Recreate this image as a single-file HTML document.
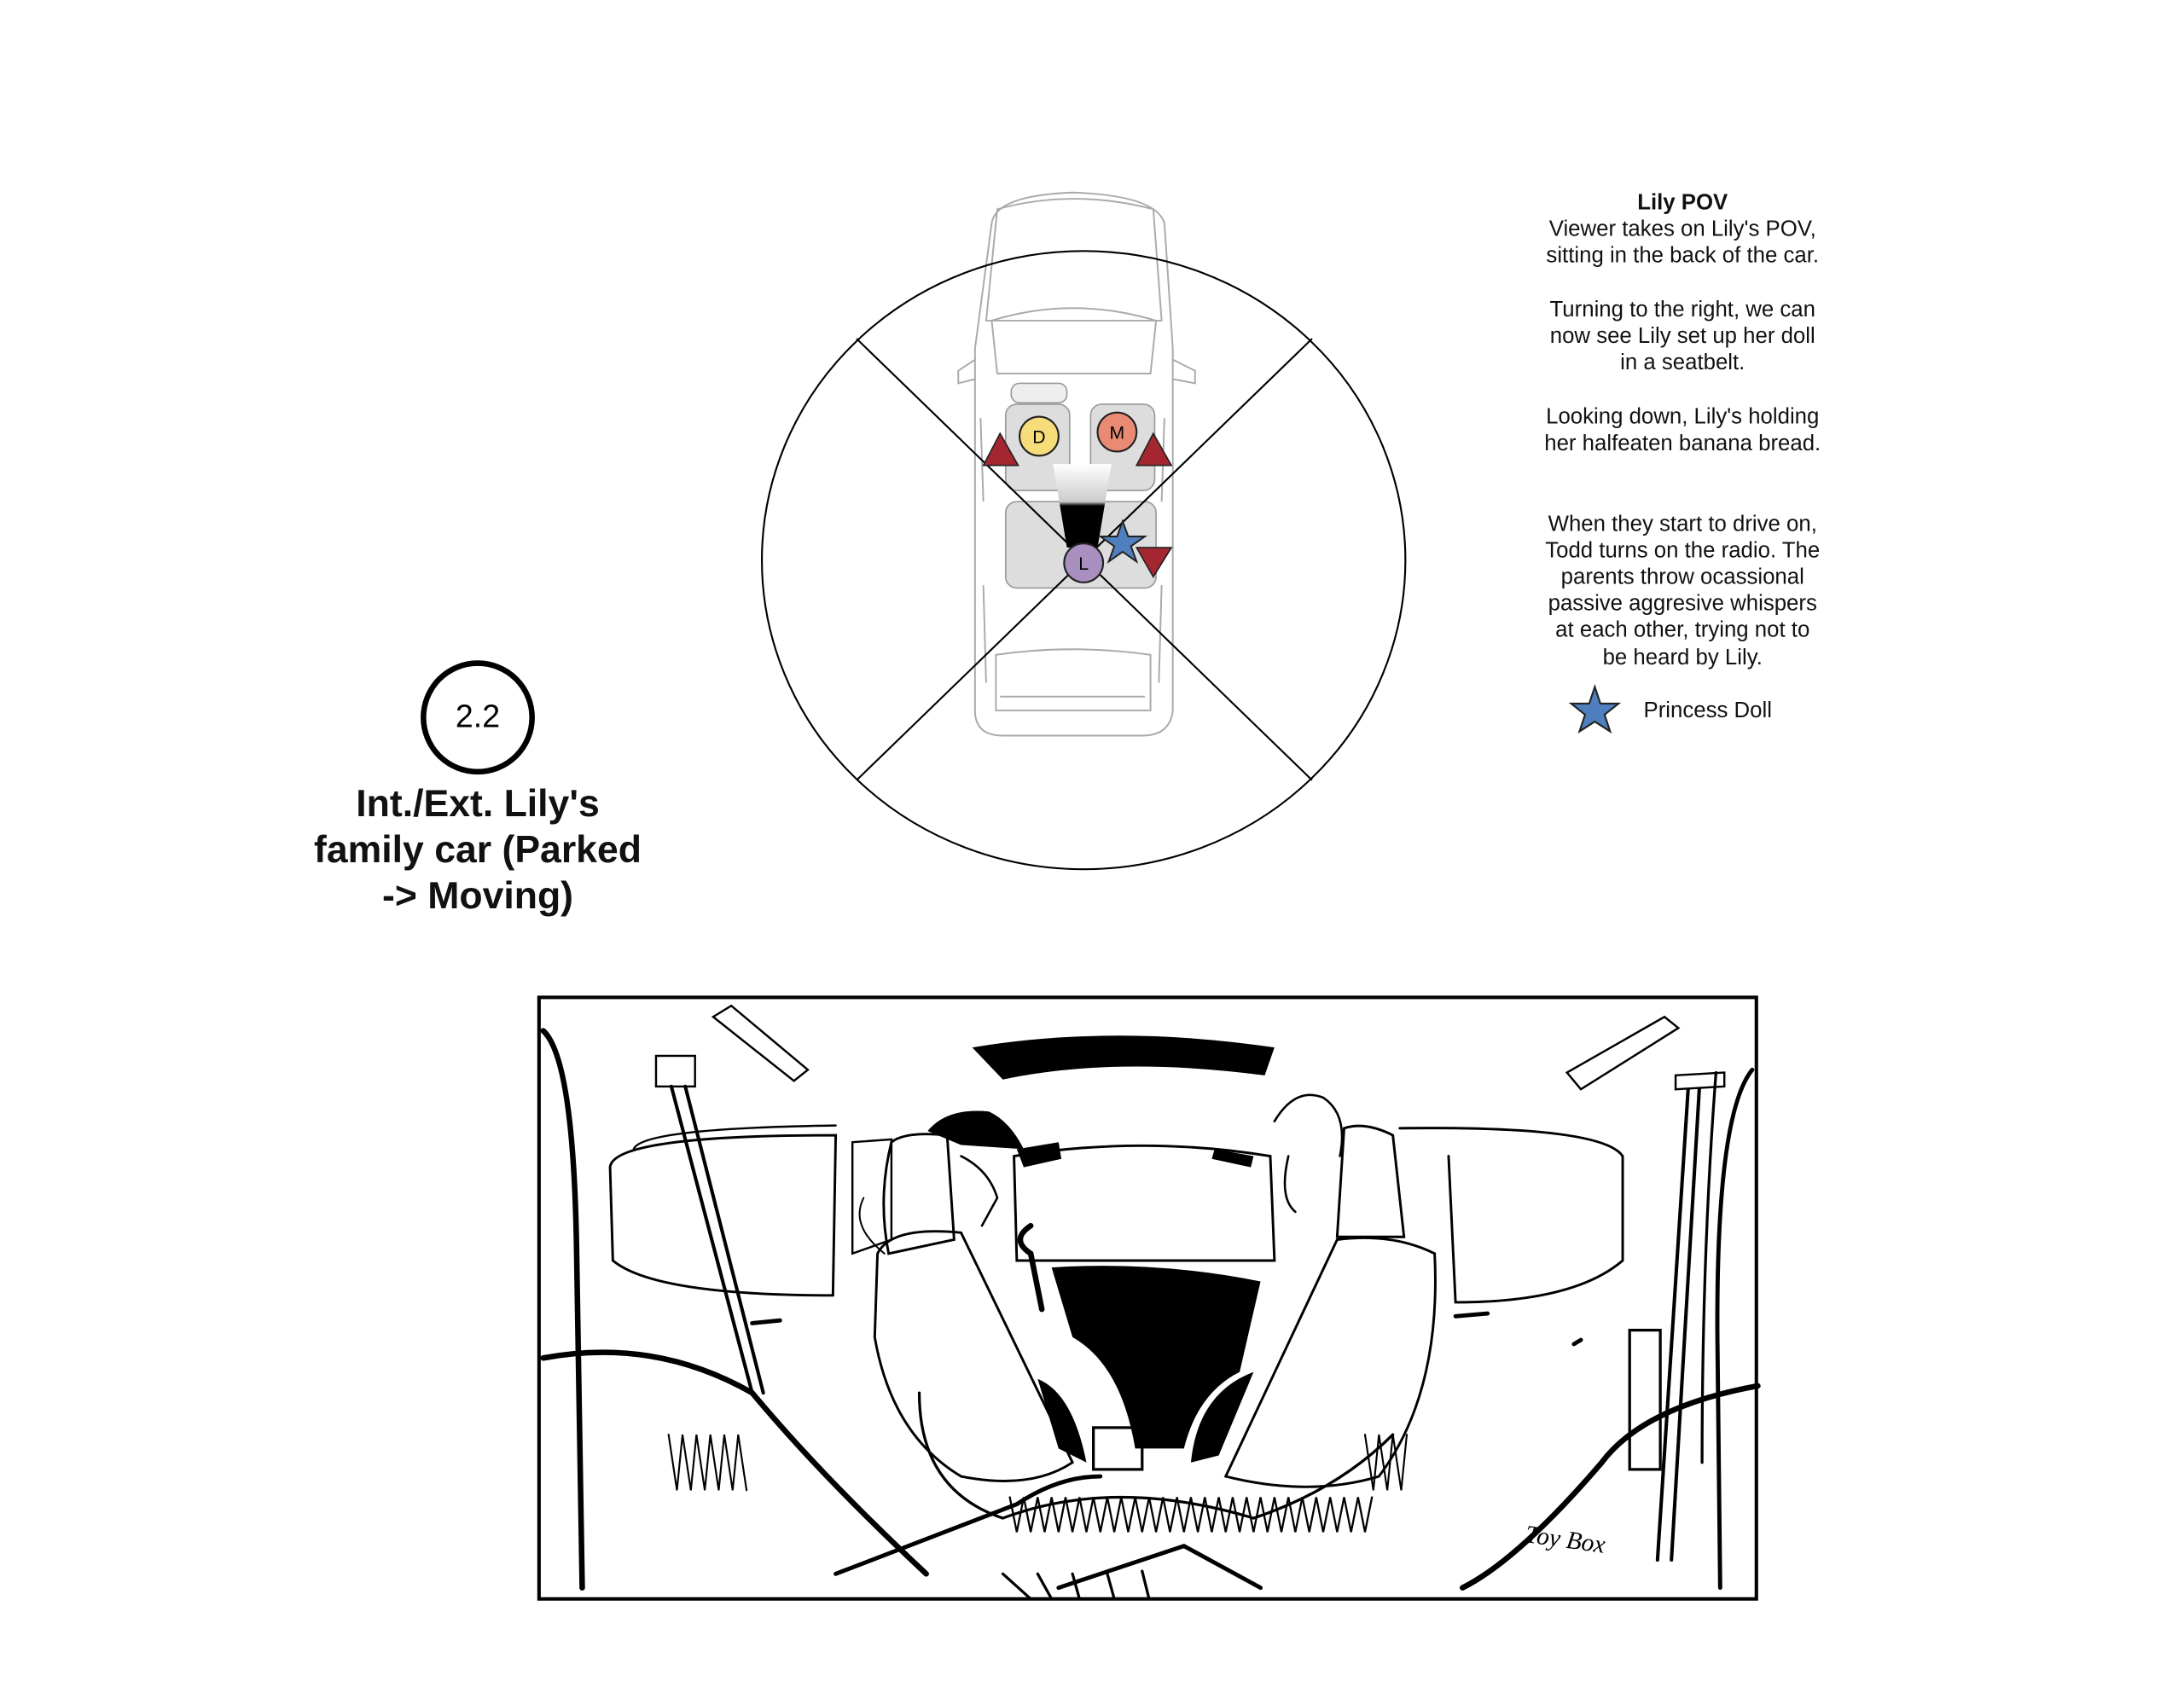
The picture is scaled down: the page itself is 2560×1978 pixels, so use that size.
<!DOCTYPE html>
<html><head><meta charset="utf-8"><style>html,body{margin:0;padding:0;background:#fff}svg{display:block}</style></head>
<body>
<svg width="2560" height="1978" viewBox="0 0 1568 1211" xmlns="http://www.w3.org/2000/svg" font-family="Liberation Sans, sans-serif">
<rect width="1568" height="1211" fill="#fff"/>
<!-- car top view -->
<g fill="none" stroke="#aaa" stroke-width="1.2">
<path d="M712,160 Q715,140 770,138 Q830,140 836,160 L842,250 L842,510 Q840,528 820,528 L720,528 Q700,528 700,510 L700,250 Z" fill="#fff"/>
<path d="M716,150 Q770,135 828,150 L834,230 L708,230 Z"/>
<path d="M712,230 Q770,212 830,230 L826,268 L716,268 Z"/>
<path d="M700,258 L688,266 L688,275 L700,272"/>
<path d="M842,258 L858,266 L858,275 L842,272"/>
<path d="M715,470 Q770,462 826,470 L826,510 L715,510 Z"/>
<path d="M718,500 L822,500"/>
<path d="M706,420 L708,490 M834,420 L832,490 M704,300 L706,360 M836,300 L834,360"/>
</g>
<g fill="#ddd" stroke="#999" stroke-width="1">
<rect x="722" y="290" width="46" height="62" rx="8"/>
<rect x="783" y="290" width="46" height="62" rx="8"/>
<rect x="722" y="360" width="108" height="62" rx="8"/>
<rect x="726" y="275" width="40" height="14" rx="6" fill="#eee"/>
</g>
<defs><linearGradient id="g" x1="0" y1="0" x2="0" y2="1"><stop offset="0" stop-color="#fff"/><stop offset="0.45" stop-color="#ccc"/><stop offset="0.5" stop-color="#000"/><stop offset="1" stop-color="#000"/></linearGradient></defs>
<polygon points="756,333 798,333 788,393 766,393" fill="url(#g)"/>
<!-- circle and lines -->
<ellipse cx="778" cy="402" rx="231" ry="222" fill="none" stroke="#000" stroke-width="1.3"/>
<line x1="615" y1="243" x2="942" y2="560" stroke="#000" stroke-width="1.3"/>
<line x1="942" y1="243" x2="615" y2="560" stroke="#000" stroke-width="1.3"/>
<!-- markers -->
<polygon points="718,311 706,334 731,334" fill="#a32630" stroke="#222" stroke-width="1"/>
<polygon points="828,311 816,334 841,334" fill="#a32630" stroke="#222" stroke-width="1"/>
<polygon points="816,393 841,393 828,414" fill="#a32630" stroke="#222" stroke-width="1"/>
<circle cx="746" cy="313" r="14" fill="#f6dd7a" stroke="#222" stroke-width="1.3"/>
<text x="746" y="318" font-size="13" text-anchor="middle">D</text>
<circle cx="802" cy="310" r="14" fill="#e98b74" stroke="#222" stroke-width="1.3"/>
<text x="802" y="315" font-size="13" text-anchor="middle">M</text>
<circle cx="778" cy="404" r="14" fill="#a88fbf" stroke="#222" stroke-width="1.3"/>
<text x="778" y="409" font-size="13" text-anchor="middle">L</text>
<polygon points="806,374 810,385 822,385 812,392 816,403 806,396 796,403 800,392 790,385 802,385" fill="#4f7fbf" stroke="#222" stroke-width="1.2"/>
<!-- right text -->
<g font-size="15.8" text-anchor="middle" fill="#111">
<text x="1208" y="150" font-weight="bold">Lily POV</text>
<text x="1208" y="169">Viewer takes on Lily's POV,</text>
<text x="1208" y="188">sitting in the back of the car.</text>
<text x="1208" y="227">Turning to the right, we can</text>
<text x="1208" y="246">now see Lily set up her doll</text>
<text x="1208" y="265">in a seatbelt.</text>
<text x="1208" y="304">Looking down, Lily's holding</text>
<text x="1208" y="323">her halfeaten banana bread.</text>
<text x="1208" y="381">When they start to drive on,</text>
<text x="1208" y="400">Todd turns on the radio. The</text>
<text x="1208" y="419">parents throw ocassional</text>
<text x="1208" y="438">passive aggresive whispers</text>
<text x="1208" y="457">at each other, trying not to</text>
<text x="1208" y="477">be heard by Lily.</text>
<text x="1180" y="515" text-anchor="start">Princess Doll</text>
</g>
<polygon points="1145,493 1149,505 1162,505 1152,513 1156,525 1145,518 1134,525 1138,513 1128,505 1141,505" fill="#4f7fbf" stroke="#222" stroke-width="1.3"/>
<!-- left label -->
<circle cx="343" cy="515" r="39" fill="none" stroke="#000" stroke-width="4"/>
<text x="343" y="522" font-size="23" text-anchor="middle">2.2</text>
<g font-size="27.3" font-weight="bold" text-anchor="middle" fill="#111">
<text x="343" y="586">Int./Ext. Lily's</text>
<text x="343" y="619">family car (Parked</text>
<text x="343" y="652">-&gt; Moving)</text>
</g>
<!-- sketch frame -->
<rect x="387" y="716" width="874" height="432" fill="#fff" stroke="#000" stroke-width="2.5"/>
<g fill="none" stroke="#000" stroke-linecap="round">
<path d="M390,740 Q412,760 414,900 L418,1140" stroke-width="4"/>
<path d="M1258,768 Q1232,800 1233,960 L1235,1140" stroke-width="3"/>
<path d="M1232,770 Q1222,900 1222,1050" stroke-width="2"/>
<rect x="471" y="758" width="28" height="22" stroke-width="1.5"/>
<path d="M482,780 L540,1000 M492,780 L548,1000" stroke-width="2.5"/>
<path d="M1203,772 L1238,770 L1238,780 L1203,782 Z" stroke-width="1.5"/>
<path d="M1212,782 L1190,1120 M1220,782 L1200,1120" stroke-width="2.5"/>
<rect x="1170" y="955" width="22" height="100" stroke-width="2"/>
<path d="M512,730 L525,722 L580,768 L570,776 Z" stroke-width="1.5"/>
<path d="M1125,770 L1195,730 L1205,738 L1135,782 Z" stroke-width="1.5"/>
<path d="M438,838 Q440,815 600,815 L598,930 Q470,930 440,905 Z" stroke-width="1.8"/>
<path d="M455,825 Q460,810 600,808" stroke-width="1.5"/>
<path d="M1005,810 Q1150,808 1165,830 L1165,905 Q1130,935 1045,935 L1040,830" stroke-width="1.8"/>
<path d="M612,820 L640,818 L640,890 L612,900 Z" stroke-width="1.5"/>
<path d="M728,830 Q820,815 912,830 L915,905 L730,905 Z" stroke-width="1.8"/>
<path d="M640,820 Q650,812 680,815 L685,890 L638,900 Q630,860 640,820 Z" stroke-width="1.8"/>
<path d="M965,810 Q980,805 1000,815 L1008,888 L960,888 Z" stroke-width="1.8"/>
<path d="M630,900 Q640,880 690,885 L770,1050 Q740,1070 690,1060 Q640,1030 628,960 Z" stroke-width="1.8"/>
<path d="M880,1060 L960,890 Q1000,885 1030,900 Q1035,1000 990,1060 Q940,1075 880,1060 Z" stroke-width="1.8"/>
<path d="M390,975 Q470,960 540,1000 Q590,1060 665,1130" stroke-width="4"/>
<path d="M1262,995 Q1180,1010 1150,1050 Q1090,1120 1050,1140" stroke-width="4"/>
<path d="M600,1130 L730,1080 Q760,1060 790,1060 M760,1140 L850,1110 L905,1140" stroke-width="3"/>
<path d="M660,1000 Q660,1070 720,1090 Q800,1060 900,1090 Q960,1070 1000,1030" stroke-width="2"/>
<rect x="785" y="1025" width="35" height="30" stroke-width="2"/>
<path d="M720,1130 L740,1148 M745,1130 L755,1148 M770,1130 L775,1148 M795,1130 L800,1148 M820,1128 L825,1148" stroke-width="2"/>
<path d="M620,860 Q610,880 635,900" stroke-width="1.2"/>
<path d="M540,950 L560,948 M1045,945 L1068,943 M1130,965 L1135,962" stroke-width="3"/>
<path d="M740,880 Q725,890 740,900 L748,940" stroke-width="4"/>
<path d="M915,805 Q930,780 950,788 Q968,800 962,830 M925,830 Q918,860 930,870" stroke-width="1.6"/>
<path d="M690,830 Q710,840 716,860 L705,880" stroke-width="1.6"/>
<path d="M725,1075 l5,25 l5,-25 l5,25 l5,-25 l5,25 l5,-25 l5,25 l5,-25 l5,25 l5,-25 l5,25 l5,-25 l5,25 l5,-25 l5,25 l5,-25 l5,25 l5,-25 l5,25 l5,-25 l5,25 l5,-25 l5,25 l5,-25 l5,25 l5,-25 l5,25 l5,-25 l5,25 l5,-25 l5,25 l5,-25 l5,25 l5,-25 l5,25 l5,-25 l5,25 l5,-25 l5,25 l5,-25 l5,25 l5,-25 l5,25 l5,-25 l5,25 l5,-25 l5,25 l5,-25 l5,25 l5,-25 l5,25 l5,-25" stroke-width="1.4"/>
<path d="M480,1030 l6,40 l4,-40 l6,40 l4,-40 l6,40 l4,-40 l6,40 l4,-40 l6,40 l4,-40 l6,40 M980,1030 l6,40 l4,-40 l6,40 l4,-40 l6,40 l4,-40" stroke-width="1.3"/>
</g>
<g fill="#000">
<path d="M698,752 Q800,735 915,752 L908,772 Q800,758 720,775 Z"/>
<path d="M666,812 Q680,795 710,798 Q725,805 735,825 L690,822 Z"/>
<path d="M755,910 Q830,905 905,920 L890,985 Q860,1000 850,1040 L815,1040 Q805,980 770,960 Z"/>
<path d="M745,990 Q770,1000 780,1050 L760,1040 Z"/>
<path d="M900,985 Q860,1000 855,1050 L875,1045 Z"/>
<path d="M730,825 L760,820 L762,832 L735,838 Z"/>
<path d="M872,825 L900,830 L898,838 L870,832 Z"/>
</g>
<text x="1095" y="1112" font-size="18" font-family="Liberation Serif, serif" font-style="italic" transform="rotate(8 1130 1105)">Toy Box</text>
</svg>
</body></html>
